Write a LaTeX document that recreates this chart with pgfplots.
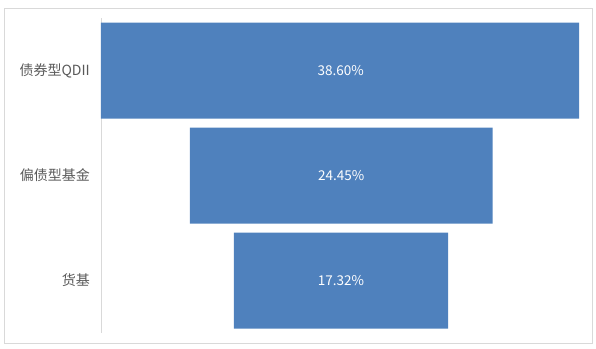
\documentclass[border=0pt]{standalone}
\usepackage{fontspec}
\newfontfamily\cjk{Noto Sans CJK SC}
\usepackage{pgfplots}
\pgfplotsset{compat=1.18}
\definecolor{barblue}{RGB}{79,129,189}
\definecolor{labgray}{RGB}{89,89,89}
\definecolor{framegray}{RGB}{217,217,217}
\begin{document}
\begin{tikzpicture}
\pgfplotsset{base/.style={
  width=478bp, height=315bp, scale only axis,
  at={(0,0)}, anchor=south west,
  xmin=0, xmax=38.60, ymin=-0.5, ymax=2.5, y dir=reverse,
}}
\begin{axis}[base,
  xbar stacked, bar width=96bp,
  axis x line=none, axis y line*=left,
  y axis line style={draw=framegray},
  ytick={0,1,2},
  yticklabels={债券型QDII,偏债型基金,货基},
  major tick length=0pt,
  yticklabel style={font=\cjk\fontsize{14bp}{16bp}\selectfont, text=labgray, inner sep=0pt, xshift=-11bp},
]
\addplot[draw=none, fill=none] coordinates {(0,0) (7.18,1) (10.72,2)};
\addplot[draw=none, fill=barblue] coordinates {(38.60,0) (24.45,1) (17.32,2)};
\end{axis}
\begin{axis}[base, hide axis]
\addplot[only marks, mark=none, nodes near coords, point meta=explicit symbolic,
  every node near coord/.append style={anchor=center, text=white, font=\cjk\fontsize{13.5bp}{15bp}\selectfont}]
  coordinates {(19.35,0) [38.60\%] (19.40,1) [24.45\%] (19.38,2) [17.32\%]};
\end{axis}
\draw[framegray] (-97bp,-10bp) rectangle (491bp,325bp);
\pgfresetboundingbox
\path[use as bounding box] (-101bp,-16bp) rectangle (495bp,333bp);
\end{tikzpicture}
\end{document}
